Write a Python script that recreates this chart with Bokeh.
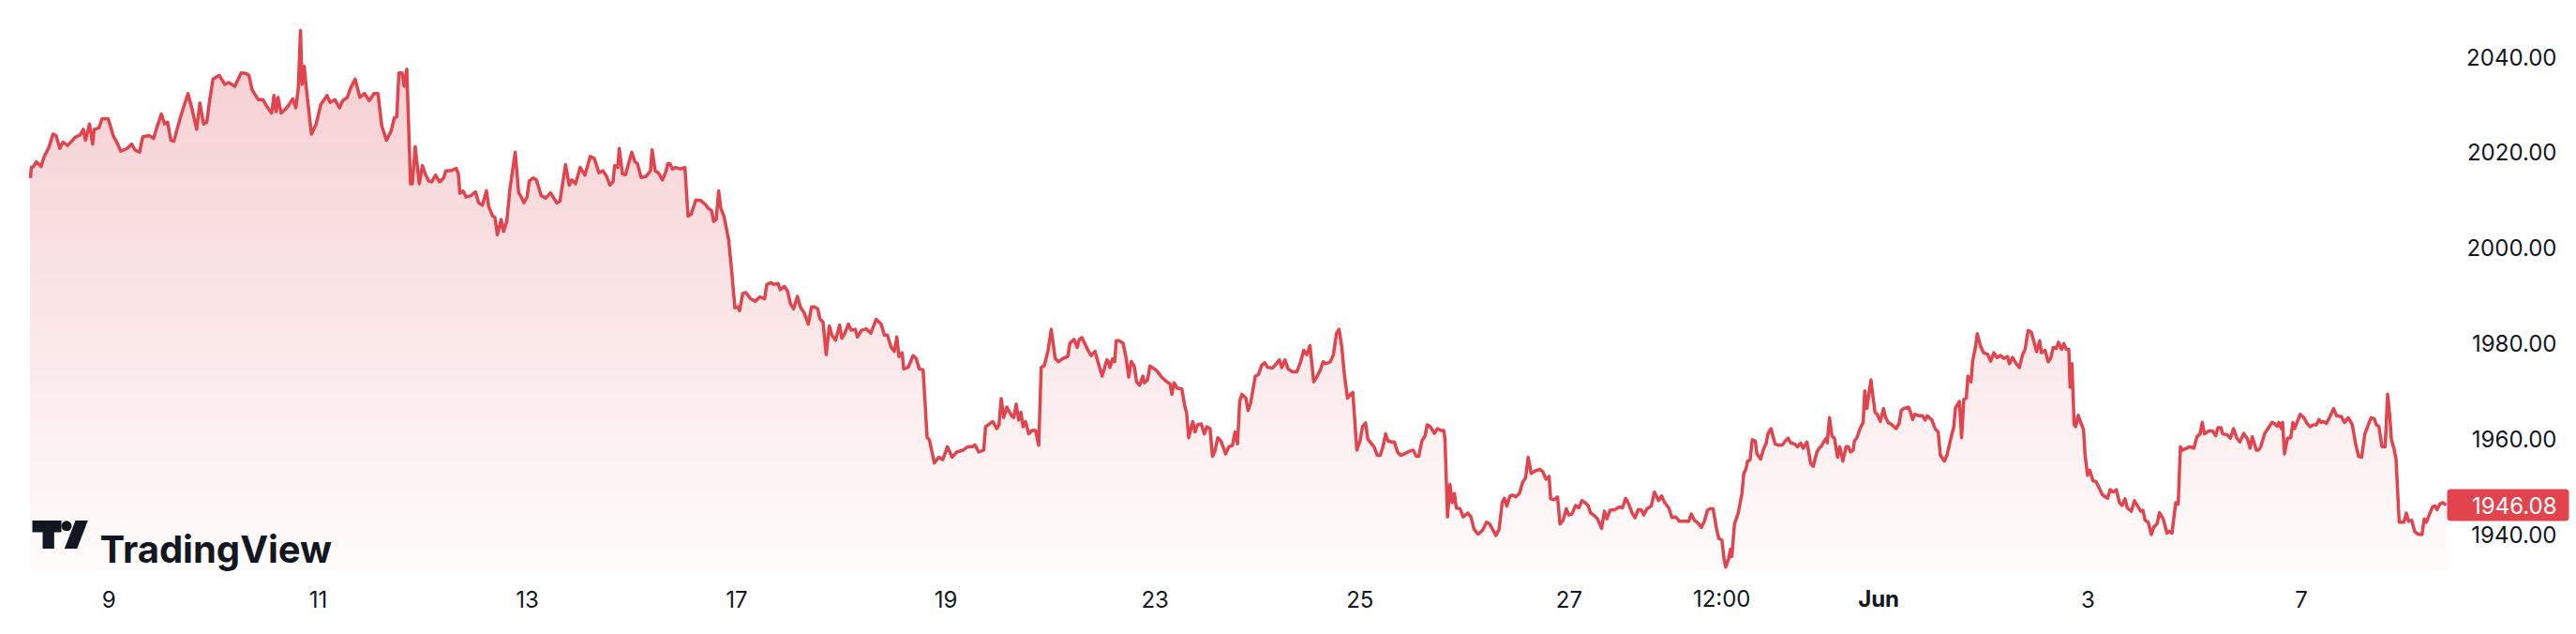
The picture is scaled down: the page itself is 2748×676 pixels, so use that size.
import numpy as np
from bokeh.plotting import figure
from bokeh.models import Range1d, Label, ColumnDataSource
from bokeh.colors import RGB
from bokeh.core.properties import value
from bokeh.embed import file_html
from bokeh.resources import INLINE

# ---- data: hours of trading time from first bar, and price ----
hours = [
    0.0, 0.2, 0.65, 1.36, 2.44, 3.15, 4.23, 5.16, 5.88, 6.74, 7.46, 8.53, 9.61, 10.32, 11.40, 12.12, 12.62,
    13.55, 14.27, 14.63, 15.70, 16.42, 17.85, 18.93, 20.00, 20.72, 22.16, 23.23, 23.95, 25.02, 25.74, 27.17,
    28.25, 28.97, 30.04, 30.76, 31.48, 32.19, 32.91, 33.63, 34.70, 36.14, 37.21, 38.14, 38.86, 39.72, 40.44,
    41.16, 41.87, 43.31, 44.60, 45.46, 46.89, 48.33, 49.40, 50.12, 50.84, 52.27, 53.35, 54.42, 55.35, 55.85,
    56.36, 56.79, 57.50, 58.36, 59.22, 60.16, 60.87, 61.45, 61.95, 62.31, 62.81, 63.24, 64.46, 65.54, 66.61,
    68.04, 68.76, 69.84, 70.91, 71.63, 72.70, 73.42, 74.49, 75.57, 76.65, 77.72, 78.80, 79.73, 80.59, 81.66,
    82.74, 83.46,
    84.03, 84.53, 85.25, 85.75, 86.33, 87.19, 87.62, 88.26, 88.69, 89.19, 89.91, 90.63, 91.35, 92.06, 92.92,
    93.86, 94.79, 95.29, 96.72, 97.66, 98.16, 98.52, 99.23, 99.95, 101.03, 102.10, 102.82, 103.68, 104.61,
    105.11, 106.04, 106.55, 107.12, 107.98, 108.55, 109.27, 109.99, 111.21, 112.00, 112.50, 113.21, 113.93,
    114.43, 115.37, 116.08, 117.16, 118.23, 119.31, 120.74, 121.46, 122.75, 123.61, 124.18, 125.04, 126.12,
    127.20, 128.41, 129.35, 130.42, 131.35, 132.21, 132.93, 133.65, 134.01, 134.72, 135.08, 135.80, 136.52,
    137.09, 137.95, 138.67, 139.24, 140.10, 141.18, 142.25, 142.61, 143.33, 144.05, 144.98, 145.84, 146.20,
    146.70, 147.27, 147.99, 149.06, 150.14, 150.86, 151.57, 152.65, 153.72, 154.80, 155.52, 156.23, 156.74,
    157.31, 157.88, 158.39, 159.10, 160.18, 160.89, 161.61, 162.19, 162.69, 163.40, 164.12, 165.20,
    166.27, 167.35, 168.42, 168.93, 169.86, 170.57, 171.51, 172.01, 172.94, 173.66, 174.37, 175.09, 175.95,
    176.67, 177.53, 178.46, 179.18, 179.90, 180.61, 181.11, 181.83, 182.55, 183.27, 183.84, 184.70, 185.63,
    186.13, 186.85, 187.64, 188.28, 189.22, 189.72, 190.65, 191.73, 192.80, 194.02, 195.17, 195.88, 196.60,
    197.46, 198.18, 198.75, 199.25, 199.97, 200.33, 201.41, 202.48, 203.20, 203.91, 204.78, 205.71, 206.21,
    207.36, 208.36, 209.29, 210.37, 211.44, 212.52, 213.95, 215.03, 216.10, 216.68, 217.54, 218.69, 219.12,
    220.05, 220.76, 221.70, 222.20, 222.70, 223.27, 223.99, 225.07, 225.57, 226.14, 226.72, 227.22, 227.72,
    228.29, 229.01, 229.73, 230.59, 231.30, 231.88, 232.59, 233.46, 234.17, 235.10, 235.82, 236.90, 237.97,
    238.47, 239.41, 240.12, 240.63, 241.20, 242.63, 243.35, 244.21, 245.14, 245.86, 246.93,
    247.29, 247.65, 248.23, 248.73, 249.09, 249.80, 250.66, 251.38, 251.95, 252.53, 253.24, 253.75, 254.46,
    255.18, 255.54, 256.26, 256.83, 257.69, 258.41, 259.48, 260.70, 261.42, 261.85, 262.35, 263.07, 264.14,
    264.86, 265.22, 265.72, 266.65, 267.15, 267.73, 268.59, 269.31, 269.88, 270.60, 271.17, 271.67, 272.39,
    273.10, 273.61, 274.18, 274.90, 275.76, 276.33, 276.91, 277.41, 277.91, 278.84, 279.34, 279.92, 280.99,
    281.71, 282.43, 283.14, 283.86, 284.94, 285.65, 286.51, 287.09, 287.80, 288.52, 289.60, 290.53, 291.39,
    292.11, 292.82, 293.54, 294.40, 294.97, 295.83, 296.55, 297.12, 298.20, 298.92, 299.63, 300.21, 300.85,
    301.43, 302.14, 302.86, 303.36, 304.29, 305.01, 305.59, 306.30, 306.80, 307.52, 308.24, 308.96, 309.67,
    310.39, 310.89, 311.46, 312.33, 312.90, 313.62, 314.33, 315.19, 316.48, 317.20, 317.92, 318.49, 319.21,
    319.93, 320.43, 321.14, 322.08, 322.79, 323.65, 324.23, 324.51, 325.09, 325.66, 326.16, 326.67, 327.10,
    327.96, 328.67,
    329.75, 330.47, 331.18, 332.11, 333.12, 334.05, 334.77, 336.20, 336.92, 337.64, 338.14, 338.71, 339.43,
    340.00, 340.72, 341.58, 342.30, 343.01, 343.59, 344.30, 345.31, 346.24, 346.96, 347.67, 348.39, 348.75,
    349.47, 350.33, 350.90, 351.62, 352.33, 352.91, 353.62, 354.48, 355.20, 355.92, 356.64, 357.35, 357.93,
    358.64, 359.50, 360.44, 361.08, 361.65, 362.37, 363.45, 364.52, 365.24, 365.96, 366.67, 367.39, 368.11,
    368.82, 369.54, 370.12, 370.83, 371.84, 372.55, 373.49, 374.20, 374.92, 375.85, 376.57, 377.43, 378.29,
    379.58, 380.44, 381.01, 381.73, 382.59, 383.31, 384.03, 384.74, 385.32, 386.03, 386.75, 387.32, 388.04,
    388.54, 388.90, 389.62, 389.98, 390.33, 390.91, 391.77, 392.63, 393.06, 393.56, 393.92, 394.49, 395.00,
    395.71, 396.07, 396.93, 397.50, 398.22, 398.58, 399.30, 400.23, 401.09, 401.95, 402.67, 403.24, 403.81,
    404.67, 405.39, 406.11, 406.68, 407.54, 408.40, 408.98, 409.84, 410.41,
    410.77, 411.49, 411.99, 412.20, 412.71, 413.28, 413.85, 414.57, 415.07, 415.79, 416.51, 417.01, 417.58,
    418.15, 418.44, 419.01, 419.73, 420.45, 420.81, 421.31, 421.74, 422.24, 422.74, 423.17, 423.68, 424.39,
    425.11, 425.61, 426.18, 427.05, 427.98, 428.69, 429.20, 429.77, 430.85, 431.20, 431.78, 432.28, 433.21,
    434.07, 434.65, 435.15, 436.22, 436.94, 437.66, 438.16, 439.09, 439.66, 440.52, 441.24, 441.60, 442.53,
    443.03, 443.54, 444.11, 444.47, 445.19, 445.54, 446.26, 446.62, 447.34, 448.05, 448.99, 449.70, 450.42,
    451.14, 452.00, 452.71, 453.57, 454.00, 454.72, 455.58, 456.30, 457.02, 457.59, 458.31, 459.02, 459.74,
    460.24, 460.96, 461.32, 462.18, 462.90, 463.47, 464.04, 464.76, 465.26, 465.98, 466.48, 467.05, 467.63,
    467.91, 468.34, 468.85, 469.20, 469.78, 470.28, 471.00, 471.36, 471.93, 472.43, 473.15, 473.87, 474.58,
    475.30, 476.02, 476.52, 477.09, 477.81, 478.53, 479.24, 479.82, 480.53, 481.04, 481.97, 482.68, 483.40,
    484.12, 484.62, 485.12, 485.84, 486.56, 487.13, 487.85, 488.42, 489.28, 490.14, 490.71, 491.29, 492.15,
    492.72, 493.22, 493.73, 494.66, 495.38, 496.31, 497.02, 497.74, 498.24, 498.75, 499.68, 500.61, 501.33,
    501.83, 502.55, 502.90, 503.98, 504.70, 505.41, 506.13, 506.85, 507.78, 508.64, 509.21, 509.72, 510.65,
    511.15, 511.65, 512.58, 513.66, 514.23, 514.73, 515.45, 515.81, 516.38, 516.67, 517.10, 517.82, 518.53,
    519.04, 519.39, 519.97, 520.69, 521.55, 522.26, 522.98, 523.70, 524.41, 524.99, 525.49, 525.99, 526.71,
    527.43, 528.36, 529.07, 530.15, 530.87, 531.73, 532.66, 533.38, 534.09, 534.81, 535.53, 536.96, 537.68,
    538.18, 538.75, 539.47, 540.19, 540.76, 541.26, 541.62, 542.20, 542.70, 543.41, 544.49, 545.06, 545.57,
    546.28, 547.00, 547.72, 548.65, 549.15, 549.65, 550.37, 551.09, 551.66, 552.09, 552.74, 553.45, 554.17,
]

prices = [
    2014.6, 2016.8, 2017.0, 2018.0, 2017.0, 2019.1, 2021.0, 2023.8, 2023.5, 2020.8, 2022.1, 2021.4, 2022.5,
    2023.2, 2023.6, 2024.8, 2022.5, 2025.9, 2021.7, 2024.8, 2025.1, 2027.0, 2027.0, 2023.6, 2021.7, 2020.2,
    2020.8, 2021.7, 2020.5, 2020.0, 2023.2, 2023.5, 2022.9, 2025.1, 2028.0, 2025.9, 2026.3, 2022.5, 2022.3,
    2024.8, 2028.2, 2032.3, 2028.5, 2024.8, 2030.3, 2025.9, 2026.3, 2031.2, 2035.3, 2036.1, 2034.2, 2034.6,
    2033.8, 2036.6, 2036.5, 2036.1, 2033.1, 2031.0, 2031.0, 2029.3, 2028.2, 2031.9, 2028.5, 2031.5, 2028.2,
    2028.9, 2029.8, 2031.2, 2029.3, 2033.4, 2045.5, 2034.2, 2038.0, 2033.8, 2023.8, 2025.9, 2030.0, 2031.9,
    2030.4, 2031.0, 2029.3, 2030.8, 2031.5, 2033.4, 2035.3, 2031.5, 2032.3, 2030.8, 2032.3, 2032.3, 2025.5,
    2022.5, 2024.4, 2027.2,
    2027.4, 2036.6, 2036.6, 2033.8, 2037.4, 2013.4, 2013.4, 2021.2, 2017.6, 2013.4, 2017.2, 2015.3, 2014.0,
    2013.8, 2015.2, 2013.8, 2014.6, 2016.1, 2016.2, 2016.6, 2015.5, 2011.4, 2011.9, 2010.6, 2010.9, 2011.7,
    2009.4, 2008.9, 2011.9, 2008.7, 2006.6, 2006.4, 2002.7, 2005.9, 2003.4, 2005.5, 2012.3, 2020.0, 2011.5,
    2010.8, 2009.4, 2010.6, 2014.0, 2014.6, 2014.2, 2010.9, 2010.4, 2011.5, 2009.4, 2009.7, 2017.4, 2013.1,
    2014.2, 2013.4, 2016.8, 2015.2, 2019.1, 2018.7, 2015.7, 2016.1, 2014.9, 2013.1, 2013.8, 2017.2, 2016.8,
    2020.8, 2015.5, 2015.3, 2017.2, 2020.0, 2018.0, 2017.6, 2014.7, 2014.9, 2016.1, 2020.5, 2016.1, 2015.7,
    2014.2, 2016.1, 2017.6, 2017.6, 2016.5, 2016.8, 2016.5, 2016.8, 2006.6, 2007.0, 2010.0, 2009.9, 2009.1,
    2008.2, 2007.8, 2005.5, 2005.9, 2011.9, 2008.2, 2006.6, 2001.6, 1994.9, 1987.4, 1987.6, 1986.8, 1990.4,
    1990.6, 1989.3,
    1988.8, 1989.7, 1989.3, 1992.3, 1992.7, 1992.3, 1992.5, 1991.2, 1991.9, 1991.0, 1988.2, 1987.2, 1989.8,
    1987.5, 1986.3, 1984.0, 1987.6, 1987.6, 1987.2, 1985.1, 1984.4, 1977.6, 1983.6, 1981.7, 1980.6, 1983.8,
    1981.0, 1982.1, 1984.0, 1982.7, 1982.9, 1981.3, 1982.7, 1983.0, 1982.1, 1985.0, 1984.0, 1981.7, 1981.7,
    1979.1, 1978.3, 1981.3, 1977.2, 1978.0, 1974.6, 1975.0, 1977.4, 1976.8, 1974.6, 1974.4, 1960.2, 1959.8,
    1954.9, 1956.1, 1955.6, 1958.3, 1956.1, 1957.2, 1957.6, 1958.3, 1958.3, 1958.7, 1957.2, 1957.6, 1962.5,
    1963.1, 1963.6, 1962.1, 1962.9, 1968.4, 1964.4, 1966.6, 1964.8, 1964.4, 1967.2, 1963.9, 1965.5, 1962.5,
    1963.6, 1961.0, 1961.7, 1961.7, 1958.6, 1974.9, 1975.3, 1978.5, 1982.9, 1976.8, 1976.1, 1976.8, 1977.2,
    1980.0, 1980.8, 1979.1, 1980.8, 1981.2, 1978.5, 1977.4, 1978.3, 1975.3, 1973.1, 1976.5,
    1976.2, 1974.9, 1976.7, 1976.1, 1980.5, 1980.5, 1980.0, 1976.8, 1972.9, 1976.2, 1975.2, 1971.9, 1971.2,
    1973.1, 1971.7, 1972.3, 1975.2, 1974.7, 1974.2, 1972.9, 1971.9, 1971.5, 1969.3, 1971.7, 1970.6, 1970.4,
    1966.6, 1965.5, 1960.2, 1963.6, 1961.4, 1962.9, 1963.1, 1961.0, 1962.5, 1962.1, 1956.3, 1957.2, 1960.2,
    1959.5, 1958.3, 1956.8, 1958.3, 1958.6, 1961.4, 1958.9, 1967.8, 1969.3, 1968.5, 1965.9, 1967.4, 1973.1,
    1973.4, 1975.3, 1975.9, 1974.9, 1974.8, 1975.5, 1976.5, 1974.9, 1976.5, 1974.6, 1974.0, 1974.0, 1976.1,
    1978.5, 1977.6, 1979.5, 1971.9, 1972.7, 1974.2, 1976.1, 1975.7, 1976.1, 1977.6, 1982.1, 1982.9, 1979.1,
    1973.4, 1968.5, 1969.3, 1969.7, 1957.6, 1959.5, 1962.5, 1963.3, 1959.9, 1959.1, 1958.3, 1956.5, 1956.5,
    1958.7, 1961.0, 1959.5, 1959.3, 1959.3, 1957.2, 1956.5, 1956.8, 1957.4, 1957.6, 1956.3, 1956.3, 1959.5,
    1960.6, 1962.9, 1962.5, 1961.1, 1962.1, 1961.7, 1961.7, 1959.9, 1943.6, 1950.4, 1946.6, 1948.5, 1945.5,
    1945.3, 1943.6,
    1944.4, 1943.6, 1941.0, 1940.0, 1940.8, 1942.5, 1942.1, 1939.7, 1941.0, 1946.6, 1947.5, 1945.9, 1948.0,
    1948.2, 1947.8, 1948.5, 1950.8, 1951.8, 1956.1, 1952.7, 1953.3, 1953.6, 1953.1, 1951.5, 1952.1, 1947.4,
    1947.2, 1947.8, 1942.1, 1942.9, 1945.3, 1944.0, 1944.2, 1946.0, 1945.5, 1947.0, 1946.6, 1946.0, 1944.4,
    1944.0, 1943.2, 1941.2, 1944.8, 1943.2, 1945.0, 1945.1, 1945.7, 1945.5, 1947.5, 1946.3, 1944.5, 1943.4,
    1945.1, 1945.1, 1944.0, 1945.3, 1945.9, 1948.8, 1947.0, 1948.0, 1946.6, 1945.5, 1943.5, 1943.6, 1942.7,
    1942.7, 1942.7, 1944.2, 1942.9, 1942.3, 1941.4, 1942.7, 1945.0, 1945.3, 1945.3, 1941.4, 1939.1, 1938.7,
    1934.7, 1933.1, 1934.9, 1936.8, 1935.3, 1942.1, 1944.4, 1948.5, 1952.7, 1953.6, 1955.3, 1955.5, 1959.8,
    1959.5, 1956.8, 1955.7, 1957.6, 1959.1, 1961.0, 1962.1, 1958.9, 1958.6, 1958.7, 1959.6, 1960.1, 1959.1,
    1958.9, 1958.3, 1959.1, 1958.0, 1959.3, 1954.8, 1954.2, 1957.2, 1958.1,
    1958.3, 1959.5, 1960.1, 1959.1, 1964.4, 1960.6, 1960.1, 1956.1, 1958.3, 1955.3, 1958.3, 1958.3, 1957.2,
    1957.6, 1959.5, 1960.2, 1962.1, 1963.4, 1970.0, 1966.3, 1969.3, 1972.3, 1968.5, 1965.5, 1965.1, 1963.6,
    1966.3, 1964.4, 1963.4, 1962.9, 1962.1, 1963.2, 1965.9, 1966.3, 1966.6, 1965.9, 1964.0, 1965.1, 1964.8,
    1964.8, 1963.9, 1964.8, 1963.9, 1962.1, 1961.4, 1956.5, 1955.3, 1956.5, 1959.9, 1962.5, 1966.4, 1967.8,
    1960.2, 1968.2, 1968.5, 1973.1, 1971.9, 1976.1, 1979.5, 1982.0, 1979.5, 1978.0, 1977.7, 1976.2, 1978.0,
    1977.0, 1977.4, 1976.8, 1977.2, 1975.7, 1977.0, 1975.7, 1974.9, 1977.6, 1978.7, 1982.7, 1982.3, 1979.9,
    1978.2, 1980.5, 1978.0, 1978.5, 1976.1, 1976.8, 1979.1, 1978.9, 1980.2, 1978.7, 1979.9, 1978.7, 1978.7,
    1970.8, 1975.7, 1962.9, 1962.5, 1964.9, 1963.6, 1961.9, 1956.5, 1952.3, 1953.4, 1951.2, 1951.0, 1949.7,
    1948.3, 1947.8, 1947.5, 1949.3, 1948.8, 1949.3, 1946.6, 1946.0, 1947.4, 1945.5, 1944.8, 1947.0, 1945.9,
    1944.8, 1945.0, 1942.9, 1942.5, 1939.9, 1941.5, 1942.1, 1944.5, 1943.2, 1940.2, 1940.6, 1940.2, 1946.6,
    1946.3, 1958.3, 1957.6, 1958.0, 1958.3, 1958.0, 1960.4, 1961.0, 1963.4, 1961.0, 1961.6, 1961.6, 1960.6,
    1962.3, 1962.3, 1961.0, 1960.8, 1960.1, 1962.1, 1960.2, 1959.3, 1961.1, 1959.9, 1958.0, 1960.4, 1957.6,
    1957.6, 1958.3, 1961.1, 1962.6, 1963.4, 1963.2, 1962.6, 1963.4, 1962.1, 1963.4, 1956.8, 1960.1, 1960.2,
    1963.4, 1962.1, 1963.4, 1965.1, 1964.4, 1963.2, 1962.5, 1962.9, 1962.9, 1964.0, 1963.4, 1963.6, 1963.2,
    1964.4, 1966.3, 1964.8, 1964.6, 1963.4, 1964.4, 1962.9, 1959.1, 1956.3, 1956.1, 1961.0, 1964.4, 1964.2,
    1962.9, 1962.6, 1958.3, 1958.3, 1969.3, 1964.8, 1959.9, 1958.0, 1955.7, 1942.5, 1942.5, 1944.4, 1942.7,
    1942.9, 1940.5, 1940.0, 1939.9, 1943.2, 1942.5, 1944.2, 1945.7, 1945.9, 1945.1, 1946.3, 1946.6, 1946.08,
]

tick_hours = [18, 66, 114, 162, 210, 258, 305, 353, 388, 424, 472, 521]
tick_labels = ["9", "11", "13", "17", "19", "23", "25", "27", "12:00", "Jun", "3", "7"]
bold_labels = ["Jun"]
price_ticks = [1940, 1960, 1980, 2000, 2020, 2040]
last_price = 1946.08

# ---- layout / style (pixel geometry of the canvas) ----
W, H = 2748, 676
PXH = 4.65          # px per hour
X_ORG = 32          # px where hour 0 sits
PXV = 5.09          # px per price unit
V_REF, V_REF_PX = 2040, 60
PANE_BOT_PX = 607
RED = "#e2444d"
INK = "#131722"
FONT = "Inter"
FS = "24px"


def px2x(rx):
    return (rx - X_ORG) / PXH


def px2y(ry):
    return V_REF - (ry - V_REF_PX) / PXV


X0, X1 = px2x(0), px2x(W)
Y1, Y0 = px2y(0), px2y(H)
PANE_BOT = px2y(PANE_BOT_PX)

p = figure(width=W, height=H, x_range=Range1d(X0, X1), y_range=Range1d(Y0, Y1),
           output_backend="svg", toolbar_location=None,
           x_axis_location=None, y_axis_location=None,
           min_border_left=0, min_border_right=0, min_border_top=0, min_border_bottom=0)
p.outline_line_color = None
p.grid.visible = False
p.background_fill_color = "white"
p.border_fill_color = "white"

hrs = np.array(hours)
pr = np.array(prices)

# gradient area under the line (stacked bands, painted top-down)
nb = 100
edges = np.linspace(PANE_BOT, Y1, nb + 1)
top_rgb = np.array([245.0, 205.0, 208.0])
bot_rgb = np.array([255.0, 252.0, 252.0])
g_top, g_bot = 2046.0, PANE_BOT
for k in range(nb - 1, -1, -1):
    lo, hi = edges[k], edges[k + 1]
    if pr.max() <= lo:
        continue
    t = float(np.clip(((lo + hi) / 2 - g_bot) / (g_top - g_bot), 0, 1))
    c = bot_rgb + t * (top_rgb - bot_rgb)
    p.varea(x=hrs, y1=np.full_like(pr, PANE_BOT), y2=np.minimum(pr, hi),
            fill_color=RGB(int(round(c[0])), int(round(c[1])), int(round(c[2]))))

p.line(hrs, pr, line_color=RED, line_width=3.5, line_join="round")

# price scale labels (right)
ysrc = ColumnDataSource(dict(x=[px2x(2727)] * len(price_ticks), y=price_ticks,
                             t=[f"{v:.2f}" for v in price_ticks]))
p.text(x="x", y="y", text="t", source=ysrc, text_align="right", text_baseline="middle",
       text_font=value(FONT), text_font_size=value(FS), text_color=INK)

# time scale labels (bottom)
xsrc = ColumnDataSource(dict(x=tick_hours, y=[px2y(638)] * len(tick_hours), t=tick_labels,
                             s=["bold" if l in bold_labels else "normal" for l in tick_labels]))
p.text(x="x", y="y", text="t", source=xsrc, text_align="center", text_baseline="middle",
       text_font=value(FONT), text_font_size=value(FS), text_font_style="s", text_color=INK)

# last price tag
p.quad(left=[px2x(2610)], right=[px2x(2740)],
       top=[last_price + 17 / PXV], bottom=[last_price - 17 / PXV],
       fill_color=RED, line_color=None, border_radius=4)
p.text(x=[px2x(2727)], y=[last_price], text=[f"{last_price:.2f}"], text_align="right",
       text_baseline="middle", text_font=value(FONT), text_font_size=value(FS),
       text_color="white")

# TradingView logo
p.quad(left=[px2x(34), px2x(45)], right=[px2x(65), px2x(57.3)],
       top=[px2y(554.6), px2y(554.6)], bottom=[px2y(566.9), px2y(584.6)],
       fill_color=INK, line_color=None)
p.scatter(x=[px2x(70.5)], y=[px2y(560.3)], size=11, marker="circle",
          fill_color=INK, line_color=None)
p.patch(x=[px2x(68.3), px2x(81.7), px2x(93.3), px2x(80.0)],
        y=[px2y(584.6), px2y(584.6), px2y(554.6), px2y(554.6)],
        fill_color=INK, line_color=None)
p.add_layout(Label(x=px2x(106), y=px2y(585), text="TradingView", text_font=FONT,
                   text_font_size="40px", text_font_style="bold", text_color=INK,
                   text_baseline="alphabetic", text_align="left"))

open("out.html", "w").write(file_html(p, INLINE))
